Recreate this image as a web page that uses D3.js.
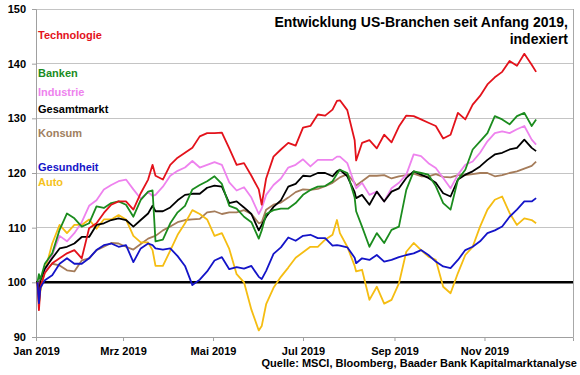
<!DOCTYPE html>
<html>
<head>
<meta charset="utf-8">
<script src="https://cdn.jsdelivr.net/npm/d3@7"></script>
<style>
  html, body { margin: 0; padding: 0; background: #fff; }
  svg { display: block; font-family: "Liberation Sans", Arial, sans-serif; }
</style>
</head>
<body>
<svg id="chart" width="580" height="375"></svg>
<script>
// ---------- DATA ----------
const dates = [
"2019-01-02","2019-01-03","2019-01-04","2019-01-07","2019-01-12","2019-01-17","2019-01-22","2019-01-27",
"2019-02-01","2019-02-06","2019-02-11","2019-02-16","2019-02-21","2019-02-26",
"2019-03-03","2019-03-08","2019-03-13","2019-03-18","2019-03-21","2019-03-23","2019-03-28",
"2019-04-02","2019-04-07","2019-04-12","2019-04-17","2019-04-22","2019-04-27",
"2019-05-02","2019-05-07","2019-05-12","2019-05-17","2019-05-22","2019-05-27",
"2019-06-01","2019-06-03","2019-06-06","2019-06-11","2019-06-16","2019-06-21","2019-06-26",
"2019-07-01","2019-07-06","2019-07-11","2019-07-16","2019-07-21","2019-07-24","2019-07-26","2019-07-31",
"2019-08-05","2019-08-06","2019-08-10","2019-08-15","2019-08-20","2019-08-25","2019-08-30",
"2019-09-04","2019-09-09","2019-09-14","2019-09-19","2019-09-24","2019-09-29",
"2019-10-04","2019-10-09","2019-10-14","2019-10-19","2019-10-24","2019-10-29",
"2019-11-03","2019-11-08","2019-11-13","2019-11-18","2019-11-23","2019-11-28",
"2019-12-03","2019-12-06"];

const technologie = [
100,94.9,99.2,101.7,103.5,104.4,105.3,105.9,
104.4,109.9,110.8,112.7,114.2,114.8,
114.8,113.3,116.3,118.8,121.5,119.5,118.8,
121.5,122.8,123.7,124.6,126.7,127.3,
127.3,127.4,124.5,121.5,121.8,119.5,
117,114.2,119,123,124.3,125.5,125,
128.3,128.6,130.7,130.5,131.6,133.2,133.3,131.5,
126,122.3,125.5,126,124.5,127,125.6,
128.5,130.5,130.4,129.8,129.2,128.6,
126.3,127,131,129.8,132.5,134.1,
136.2,137.5,138.5,140.5,139.6,141.8,
139.8,138.5];

const banken = [
100,101.5,100.5,103.4,105.3,109.6,112.6,111.7,
110.2,110.8,113.9,113.6,114.5,114.8,
114.2,112,115.1,116.6,116.8,107.5,107.8,
110.8,112.8,114,117,117.8,118.5,
119.4,118,114,113.5,112,111,
108,109.5,112.5,113.2,113.5,113.5,114.5,
116,116.9,117.5,117.6,118.5,119.8,120.6,120,
115.5,113,110.2,106.5,109,107.2,109.6,
110.2,116.9,120.3,120,119.7,117.6,
114.5,113.3,118.8,120.6,124.3,125.8,
127.3,130.4,129.8,128.9,130.4,131,
128.6,129.8];

const industrie = [
100,99.5,101,102,105,108.5,107.5,109,
111,114,115,117,117.8,118.5,
118.8,117,115.3,116.5,115.8,116,117.5,
119.5,120.4,121,122.2,121,121.5,
122,121.5,118.3,116.8,117.4,115.5,
112.5,113.5,116,117.8,119,121,121.5,
122.5,121.2,122.4,122.4,122.4,123,123,121.8,
118,117.2,118.2,116,116.6,114.8,117.2,
118.2,119.7,123.4,123.1,121.8,120.9,
119.1,117.2,119.7,121.5,122.1,123.7,
125.8,127.3,127.6,127.3,128,128.6,
126.1,125.2];

const gesamtmarkt = [
100,97.5,100.3,102.5,104.4,106.2,106.5,107.1,
108.3,108.3,110.5,110.8,111.4,111.7,
111.4,110.2,111.4,112.6,114,113,113,
113.7,115,116,116.2,116.2,117.3,
117.7,117.5,114.5,114.8,113.7,112.5,
109.5,110.5,112,113.8,115,117.5,118,
119.5,119.4,120,120,119.4,120.3,120.6,119.4,
116.5,115.4,116,114.2,116.6,114.8,116.6,
117.2,119.1,120.3,119.7,119.1,118.2,
116.3,115.7,118.8,119.7,120.3,121.2,
122.4,123.4,123.7,124.3,124.6,126.1,
124.6,124];

const konsum = [
100,99,100.5,101.9,103.4,103.1,102.2,102,
104,104.4,105.9,106.5,107.2,107.1,
106.5,106,107,108,108.3,108.5,109.5,
110.2,111,111.4,111.5,111.6,112.8,
113,112.5,112.8,112.8,113.2,112.5,
110.8,111,113.3,114.2,114.6,115.5,116.5,
117,116.9,117.1,117.6,118.2,118.8,119.2,119.8,
118.2,117.7,118.5,119.5,119.5,119.6,119,
119.4,119.6,119.9,119.4,119.4,119.8,
119.3,119.2,119.6,119.6,119.8,120,
120,119.4,119.6,120,120.3,120.8,
121.3,122.1];

const gesundheit = [
100,96.2,99,100.4,101.3,103.4,104.4,103.4,
103.4,104.4,105.9,106.8,107.1,106.5,
106.8,103.7,106.2,107.1,106.8,106.2,106,
106.2,104.8,103,99.5,100.5,102,
104,104.6,102.4,102.8,102.5,103,
101,100.6,102.1,105.2,106.4,108.2,107.6,
108.5,108.7,108.1,108.1,106.7,106.8,106.7,106.4,
104.5,103.5,104.4,104.1,105,103.8,104.1,
104.6,105,105.3,105.9,105,103.8,
102.9,102.6,104.1,105.9,106.5,107.5,
109,109.5,110.2,112,113.3,114.8,
114.8,115.4];

const auto = [
100,96,98.5,102,107.1,110.5,109,110.5,
110.5,111.5,109.8,111.5,111.5,112.3,
111.5,108.5,107.3,107.3,105.9,103,103,
105.8,108.7,110.8,113.2,112.5,111.5,
108.5,109,106.1,101.5,100,95,
91.2,92,96,99,101,102.7,104.5,
105.5,106.5,106.5,107.8,108.7,111.4,109,106.5,
103,102,102.3,96.8,99.2,96.1,96.8,
99.8,105.6,107.2,105.9,104.7,104.1,
99.2,98,101.7,105,106.5,110.2,
113.3,115.1,115.7,112.7,110.5,111.7,
111.4,110.8];

const seriesNames = ["Technologie","Banken","Industrie","Gesamtmarkt","Konsum","Gesundheit","Auto"];
const seriesValues = [technologie, banken, industrie, gesamtmarkt, konsum, gesundheit, auto];
const seriesColors = ["#e3121b","#1b8c1e","#ee82ee","#000000","#a57c5a","#1414c8","#f5bd12"];
const legendColors = ["#e3121b","#1b8c1e","#ee82ee","#000000","#a08060","#1414c8","#f5c21a"];
const drawOrder = [4, 6, 2, 3, 1, 0, 5];

const yTicks = [90, 100, 110, 120, 130, 140, 150];
const xTickDates = ["2019-01-01","2019-03-01","2019-05-01","2019-07-01","2019-09-01","2019-11-01"];
const xTickLabels = ["Jan 2019","Mrz 2019","Mai 2019","Jul 2019","Sep 2019","Nov 2019"];

const titleLines = ["Entwicklung US-Branchen seit Anfang 2019,", "indexiert"];
const sourceText = "Quelle: MSCI, Bloomberg, Baader Bank Kapitalmarktanalyse";

// ---------- CHART ----------
const parse = d3.timeParse("%Y-%m-%d");
const svg = d3.select("#chart");
const L = 36, R = 573, T = 9, B = 337;

const x = d3.scaleTime().domain([parse("2019-01-01"), parse("2019-12-31")]).range([L, R]);
const y = d3.scaleLinear().domain([90, 150]).range([B, T]);

// gridlines
svg.append("g").selectAll("line")
  .data(yTicks.filter(v => v > 90 && v !== 100))
  .join("line")
  .attr("x1", L).attr("x2", R)
  .attr("y1", d => y(d)).attr("y2", d => y(d))
  .attr("stroke", "#c4c4c4").attr("stroke-width", 1)
  .attr("shape-rendering", "crispEdges");

// right frame border
svg.append("line").attr("x1", R).attr("x2", R).attr("y1", T).attr("y2", B)
  .attr("stroke", "#a8a8a8").attr("shape-rendering", "crispEdges");

// y axis
const yAxis = svg.append("g").attr("transform", `translate(${L},0)`)
  .call(d3.axisLeft(y).tickValues(yTicks).tickSize(4).tickPadding(6).tickFormat(d3.format("d")));
yAxis.select(".domain").attr("stroke", "#a0a0a0");
yAxis.selectAll(".tick line").attr("stroke", "#a0a0a0");
yAxis.selectAll("text").attr("font-size", 11).attr("font-weight", "bold").attr("fill", "#000")
  .attr("font-family", "'Liberation Sans', Arial, sans-serif");

// x axis
const xAxis = svg.append("g").attr("transform", `translate(0,${B})`)
  .call(d3.axisBottom(x).tickValues(xTickDates.map(parse)).tickSize(4).tickPadding(6)
    .tickFormat((d, i) => xTickLabels[i]));
xAxis.select(".domain").attr("stroke", "#a0a0a0");
xAxis.selectAll(".tick line").attr("stroke", "#a0a0a0");
xAxis.selectAll("text").attr("font-size", 11).attr("font-weight", "bold").attr("fill", "#000")
  .attr("font-family", "'Liberation Sans', Arial, sans-serif");

// baseline at 100
svg.append("line").attr("x1", L).attr("x2", R).attr("y1", y(100)).attr("y2", y(100))
  .attr("stroke", "#000").attr("stroke-width", 2.5);

// series
const line = d3.line().x((d, i) => x(parse(dates[i]))).y(d => y(d));
drawOrder.forEach(k => {
  svg.append("path")
    .datum(seriesValues[k])
    .attr("d", line)
    .attr("fill", "none")
    .attr("stroke", seriesColors[k])
    .attr("stroke-width", 1.8)
    .attr("stroke-linejoin", "round");
});

// legend labels
const legendY = [39, 77, 96, 113, 137, 171, 186];
svg.append("g").selectAll("text")
  .data(seriesNames)
  .join("text")
  .attr("x", 38)
  .attr("y", (d, i) => legendY[i])
  .attr("fill", (d, i) => legendColors[i])
  .attr("font-size", 11).attr("font-weight", "bold")
  .text(d => d);

// title
svg.append("g").selectAll("text")
  .data(titleLines)
  .join("text")
  .attr("x", 568)
  .attr("y", (d, i) => 27 + i * 17)
  .attr("text-anchor", "end")
  .attr("font-size", 14).attr("font-weight", "bold").attr("fill", "#000")
  .text(d => d);

// source
svg.append("text")
  .attr("x", 577).attr("y", 367)
  .attr("text-anchor", "end")
  .attr("font-size", 11).attr("font-weight", "bold").attr("fill", "#000")
  .text(sourceText);
</script>
</body>
</html>
